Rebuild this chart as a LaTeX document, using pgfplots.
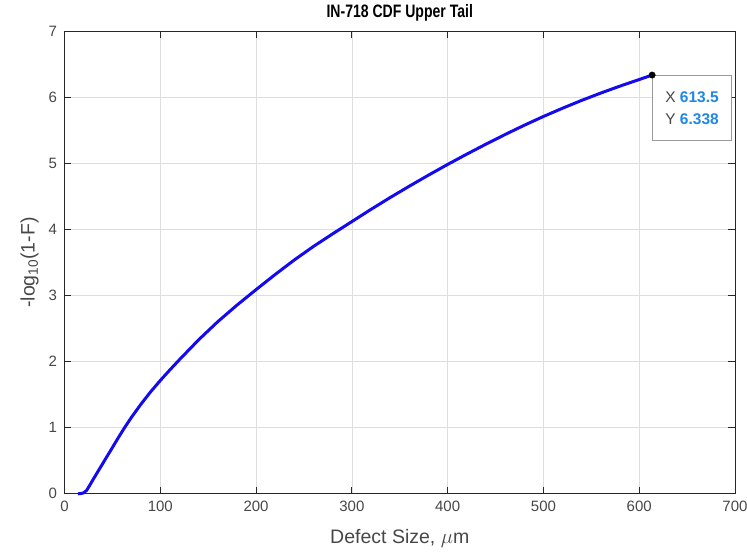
\documentclass[border=0pt]{standalone}
\usepackage{pgfplots}
\pgfplotsset{compat=1.18}
\usepackage{fontspec}
\setmainfont{Liberation Sans}
\definecolor{axgray}{RGB}{38,38,38}
\definecolor{gridgray}{RGB}{222,222,222}
\definecolor{tipblue}{RGB}{30,136,229}
\definecolor{curveblue}{RGB}{20,10,240}

% Upper tail of the defect-size CDF
\pgfplotstableread{
x      y
14     0
17     0.003
20     0.015
23     0.05
26     0.12
30     0.22
35     0.34
40     0.46
45     0.58
50     0.70
56     0.845
62     0.985
70     1.16
80     1.36
90     1.545
100    1.715
110    1.875
120    2.03
140    2.33
160    2.605
180    2.855
200    3.09
220    3.32
240    3.54
260    3.745
280    3.935
300    4.12
320    4.305
340    4.484
360    4.656
380    4.823
400    4.985
420    5.141
440    5.292
460    5.438
480    5.578
500    5.711
520    5.836
540    5.955
560    6.066
580    6.171
600    6.270
613.5  6.338
}\tailtable

\begin{document}
\begin{tikzpicture}
\useasboundingbox (-64.5pt,-60.2pt) rectangle (682.5pt,493.8pt);
\begin{axis}[
  at={(0,0)}, anchor=south west,
  scale only axis, width=670.5pt, height=462.5pt,
  xmin=0, xmax=700, ymin=0, ymax=7,
  xtick={0,100,...,700}, ytick={0,1,...,7},
  grid=major,
  major grid style={gridgray, line width=0.7pt},
  axis line style={axgray, line width=0.9pt},
  tick style={axgray, line width=0.9pt},
  major tick length=7pt,
  tick align=inside,
  /pgf/number format/assume math mode=true,
  ticklabel style={font=\fontsize{15}{15}\selectfont, text=axgray!85},
  xticklabel style={yshift=-3.8pt},
  yticklabel style={xshift=-4pt},
  xlabel={Defect Size, $\mu$m},
  ylabel={-log\textsubscript{10}(1-F)},
  label style={font=\fontsize{19.5}{20}\selectfont, text=axgray!85},
  xlabel style={at={(axis description cs:0.5,-0.0973)}, anchor=center},
  ylabel style={at={(axis description cs:-0.052,0.5)}, anchor=center, rotate=0},
  title={\scalebox{0.78}[1]{IN-718 CDF Upper Tail}},
  title style={at={(axis description cs:0.5,1.026)}, anchor=center,
               font=\fontsize{18}{18}\selectfont\bfseries, text=black},
  clip=false,
]
\addplot[curveblue, line width=3pt, line join=round] table[x=x, y=y] {\tailtable};
\addplot[only marks, mark=*, mark size=3.2pt, black] coordinates {(613.5,6.338)};
\node[draw=black!40, fill=white, anchor=north west, line width=0.8pt,
      minimum width=79pt, minimum height=65pt, inner xsep=9pt, inner ysep=0pt,
      align=left, font=\fontsize{15.5}{22}\selectfont]
  at (axis cs:613.5,6.338)
  {\textcolor{axgray!85}{X} \textcolor{tipblue}{\bfseries 613.5}\\
   \textcolor{axgray!85}{Y} \textcolor{tipblue}{\bfseries 6.338}};
\end{axis}
\end{tikzpicture}
\end{document}
